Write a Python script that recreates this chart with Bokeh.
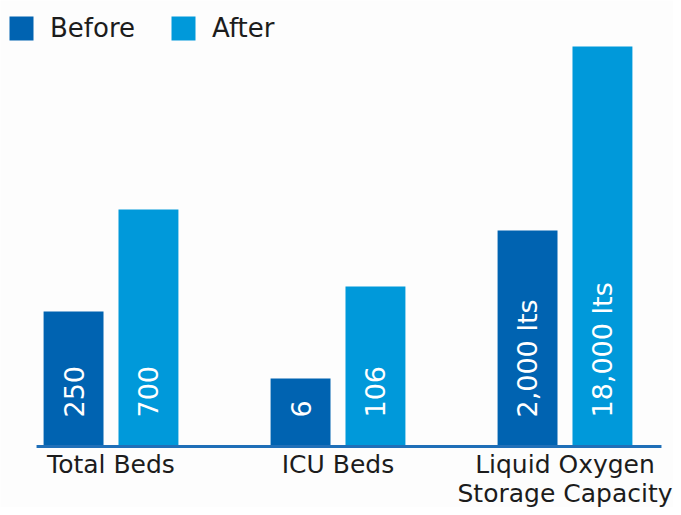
from bokeh.plotting import figure
from bokeh.models import ColumnDataSource, Range1d, Legend, LegendItem
from bokeh.core.properties import value
from bokeh.embed import file_html
from bokeh.resources import INLINE
import math

categories = ["Total Beds", "ICU Beds", "Liquid Oxygen\nStorage Capacity"]
before_height = [135, 68, 216]
after_height = [237, 160, 400]
before_labels = ["250", "6", "2,000 lts"]
after_labels = ["700", "106", "18,000 lts"]
series_names = ["Before", "After"]

BEFORE_COLOR = "#0063b1"
AFTER_COLOR = "#0099da"
FONT = "DejaVu Sans"

idx = list(range(len(categories)))
off = 0.165
bw = 0.264

p = figure(width=673, height=507, output_backend="svg", toolbar_location=None,
           x_axis_location=None, y_axis_location=None,
           x_range=Range1d(-0.4868, 2.478), y_range=Range1d(-61, 446),
           min_border=0, outline_line_color=None,
           background_fill_color="#fdfdfd", border_fill_color="#fdfdfd")
p.xgrid.visible = False
p.ygrid.visible = False

src_b = ColumnDataSource(dict(x=[i - off for i in idx], top=before_height, lab=before_labels))
src_a = ColumnDataSource(dict(x=[i + off for i in idx], top=after_height, lab=after_labels))

rb = p.vbar(x="x", top="top", bottom=0, width=bw, source=src_b,
            fill_color=BEFORE_COLOR, line_color=None)
ra = p.vbar(x="x", top="top", bottom=0, width=bw, source=src_a,
            fill_color=AFTER_COLOR, line_color=None)

# baseline
p.segment(x0=[idx[0] - 0.328], x1=[idx[-1] + 0.425], y0=[0], y1=[0],
          line_color="#1f6fb8", line_width=3)

for src in (src_b, src_a):
    p.text(x="x", y=0, text="lab", source=src, angle=math.pi / 2,
           text_align="left", text_baseline="middle", y_offset=-29,
           text_color="white", text_font=value(FONT), text_font_size="27px")

cat_src = ColumnDataSource(dict(x=idx, t=categories))
p.text(x="x", y=0, text="t", source=cat_src, text_align="center",
       text_baseline="top", y_offset=3, text_line_height=1.0,
       text_color="#1c1c1c", text_font=value(FONT), text_font_size="25px")

legend = Legend(items=[LegendItem(label=series_names[0], renderers=[rb]),
                       LegendItem(label=series_names[1], renderers=[ra])],
                orientation="horizontal", location=(6, 464),
                glyph_width=30, glyph_height=30, label_standoff=14, spacing=33,
                padding=0, margin=0, border_line_color=None,
                background_fill_alpha=0,
                label_text_font=FONT, label_text_font_size="26px",
                label_text_color="#1c1c1c", label_text_baseline="middle")
p.add_layout(legend, "center")

open("out.html", "w").write(file_html(p, INLINE))
